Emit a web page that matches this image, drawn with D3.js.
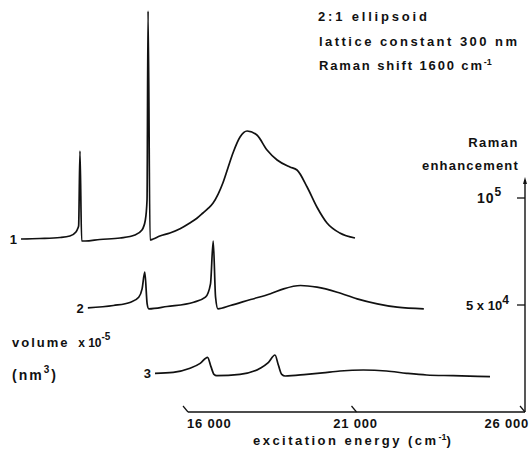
<!DOCTYPE html>
<html>
<head>
<meta charset="utf-8">
<script src="https://cdn.jsdelivr.net/npm/d3@7/dist/d3.min.js"></script>
<style>
  html, body { margin: 0; padding: 0; background: #fff; }
  svg { display: block; }
  text { font-family: "Liberation Sans", Arial, sans-serif; font-weight: bold; fill: #111; }
</style>
</head>
<body>
<svg id="chart" width="529" height="451"></svg>
<script>
// Particle volumes (x 10^-5 nm^3), one spectrum each
const volumes = [1, 2, 3];
const volumeLabels = ["1", "2", "3"];

// Excitation energy (cm^-1) and Raman enhancement for volume 1
const energy1 = [16000, 16560, 17160, 17450, 17630, 17690, 17710, 17750, 17800, 17900, 18340, 18940, 19380, 19590, 19690, 19740, 19770, 19830, 19920, 20120, 20420, 20720, 21010, 21220, 21400, 21560, 21700, 21850, 21990, 22140, 22290, 22500, 22710, 23000, 23300, 23600, 23980, 24190, 24490, 24780, 25080, 25460, 25910];
const enh1 =    [2800, 3040, 3500, 4200, 6070, 7940, 8900, 43900, 1870, 1870, 2570, 3270, 4670, 7010, 11680, 21000, 109300, 2340, 2800, 4200, 5610, 7600, 10280, 12500, 14950, 17200, 19630, 23800, 28970, 36000, 42990, 50470, 53270, 51400, 44390, 39720, 36450, 35050, 27100, 17760, 10280, 5610, 3270];

// Volume 2
const energy2 = [16010, 16770, 17280, 17520, 17620, 17700, 17770, 17820, 18360, 19150, 19500, 19650, 19730, 19800, 19870, 20240, 20840, 21430, 21820, 22320, 22810, 23410, 24000, 24600, 25190, 25980];
const enh2 =    [1730, 2800, 4350, 6680, 10600, 18360, 3600, 1260, 2340, 4350, 6680, 12940, 32850, 6680, 1260, 2800, 5600, 8270, 10600, 12150, 11360, 9020, 5930, 3600, 2010, 1260];

// Volume 3
const energy3 = [16030, 16570, 17070, 17370, 17590, 17690, 17780, 17860, 18550, 19150, 19390, 19590, 19690, 19790, 19890, 20530, 21000, 21520, 22210, 22900, 23500, 24090, 24880, 25970];
const enh3 =    [2180, 2650, 4520, 6850, 9660, 5300, 1710, 1090, 1710, 4520, 7170, 10750, 6070, 1710, 930, 1710, 2400, 3270, 3740, 3270, 2180, 1400, 1090, 610];

// Axis ticks
const xTicks = [16000, 21000, 26000];
const xTickLabels = ["16 000", "21 000", "26 000"];
const xTickAnchors = ["start", "middle", "end"];
const yTicks = [100000, 50000];

const svg = d3.select("#chart");

// Front plane scales, with an oblique depth shift per volume
const x = d3.scaleLinear().domain([16000, 26000]).range([188, 525]);
const y = d3.scaleLinear().domain([0, 100000]).range([412, 198]);
const depth = d3.scaleLinear().domain([1, 3]).range([167, 34]);

const series = [
  { v: volumes[0], label: volumeLabels[0], e: energy1, r: enh1 },
  { v: volumes[1], label: volumeLabels[1], e: energy2, r: enh2 },
  { v: volumes[2], label: volumeLabels[2], e: energy3, r: enh3 }
];

const line = d3.line()
  .x(d => d[0])
  .y(d => d[1])
  .curve(d3.curveMonotoneX);

series.forEach(s => {
  const off = depth(s.v);
  const pts = s.e.map((e, i) => [x(e) - off, y(s.r[i]) - off]);
  svg.append("path")
    .attr("d", line(pts))
    .attr("fill", "none")
    .attr("stroke", "#111")
    .attr("stroke-width", 1.7)
    .attr("stroke-linejoin", "round");
  svg.append("text")
    .attr("x", pts[0][0] - 4)
    .attr("y", pts[0][1] + 5)
    .attr("text-anchor", "end")
    .attr("font-size", 13)
    .text(s.label);
});

// Energy axis with slanted ticks pointing back into depth
const axisColor = "#111";
svg.append("line")
  .attr("x1", x(16000)).attr("x2", x(26000))
  .attr("y1", y(0)).attr("y2", y(0))
  .attr("stroke", axisColor).attr("stroke-width", 1.4);
const tickX = [187, 356, 529];
xTicks.forEach((t, i) => {
  svg.append("line")
    .attr("x1", x(t)).attr("y1", y(0))
    .attr("x2", x(t) - 5).attr("y2", y(0) - 6)
    .attr("stroke", axisColor).attr("stroke-width", 1.2);
  svg.append("text")
    .attr("x", i === 0 ? x(t) - 1 : (i === 1 ? x(t) - 1 : 529))
    .attr("y", 428)
    .attr("text-anchor", xTickAnchors[i])
    .attr("font-size", 13)
    .attr("letter-spacing", 0.8)
    .text(xTickLabels[i]);
});

// Enhancement axis with arrow
svg.append("line")
  .attr("x1", x(26000)).attr("x2", x(26000))
  .attr("y1", y(0)).attr("y2", 180)
  .attr("stroke", axisColor).attr("stroke-width", 1.4);
svg.append("path")
  .attr("d", `M${x(26000)},177 l-2,7 l4,0 z`)
  .attr("fill", axisColor);
yTicks.forEach(t => {
  svg.append("line")
    .attr("x1", x(26000) - 8).attr("x2", x(26000))
    .attr("y1", y(t)).attr("y2", y(t))
    .attr("stroke", axisColor).attr("stroke-width", 1.3);
});

const yl1 = svg.append("text").attr("x", 477).attr("y", y(100000) + 5).attr("font-size", 14).attr("letter-spacing", 1);
yl1.append("tspan").text("10");
yl1.append("tspan").attr("dy", -7).attr("font-size", 12).text("5");

const yl2 = svg.append("text").attr("x", 466).attr("y", y(50000) + 5).attr("font-size", 13);
yl2.append("tspan").text("5 x 10");
yl2.append("tspan").attr("dy", -6).attr("font-size", 12).text("4");

// Titles and annotations
function label(txt, xx, yy, len) {
  return svg.append("text").attr("x", xx).attr("y", yy).attr("font-size", 13)
    .attr("textLength", len).attr("lengthAdjust", "spacing").text(txt);
}
label("2:1 ellipsoid", 318, 21, 109);
label("lattice constant 300 nm", 319, 46, 198);

const rs = svg.append("text").attr("x", 319).attr("y", 70).attr("font-size", 13);
rs.append("tspan").attr("textLength", 163).attr("lengthAdjust", "spacing").text("Raman shift 1600 cm");
rs.append("tspan").attr("dy", -5).attr("font-size", 9).text("-1");

svg.append("text").attr("x", 519).attr("y", 147).attr("text-anchor", "end")
  .attr("font-size", 13).attr("letter-spacing", 1.5).text("Raman");
svg.append("text").attr("x", 519).attr("y", 170).attr("text-anchor", "end")
  .attr("font-size", 13).attr("letter-spacing", 1.2).text("enhancement");

const vol = svg.append("text").attr("x", 12).attr("y", 347).attr("font-size", 13);
vol.append("tspan").attr("letter-spacing", 2).text("volume ");
vol.append("tspan").attr("font-size", 12).attr("dx", 3).text("x 10");
vol.append("tspan").attr("dy", -7).attr("font-size", 10).text("-5");

const nm = svg.append("text").attr("x", 12).attr("y", 380).attr("font-size", 14);
nm.append("tspan").attr("letter-spacing", 2).text("(nm");
nm.append("tspan").attr("dy", -7).attr("font-size", 10).text("3");
nm.append("tspan").attr("dy", 7).attr("dx", 2).text(")");

const xl = svg.append("text").attr("x", 253).attr("y", 445).attr("font-size", 13);
xl.append("tspan").attr("textLength", 183).attr("lengthAdjust", "spacing").text("excitation energy (cm");
xl.append("tspan").attr("dy", -5).attr("font-size", 9).text("-1");
xl.append("tspan").attr("dy", 5).text(")");
</script>
</body>
</html>
